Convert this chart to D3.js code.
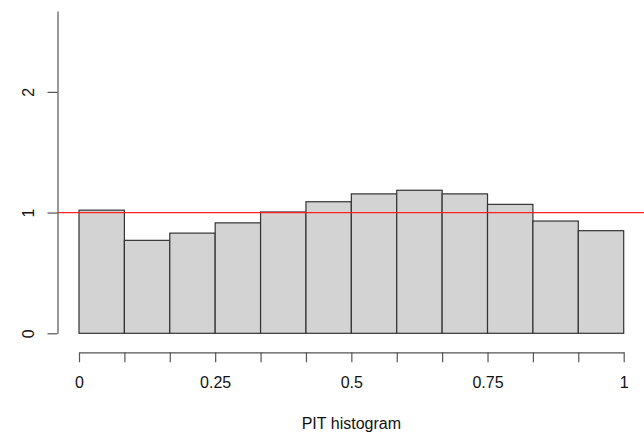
<!DOCTYPE html>
<html>
<head>
<meta charset="utf-8">
<script src="https://cdn.jsdelivr.net/npm/d3@7"></script>
<style>
  body { margin: 0; background: #fff; }
  svg text { font-family: "Liberation Sans", Arial, sans-serif; }
</style>
</head>
<body>
<svg class="chart_pit"></svg>
<script>
// bin edges and relative frequencies
const binEdges = [0, 1/12, 2/12, 3/12, 4/12, 5/12, 6/12, 7/12, 8/12, 9/12, 10/12, 11/12, 1];
const binDensity = [1.02, 0.77, 0.83, 0.915, 1.005, 1.09, 1.155, 1.185, 1.155, 1.068, 0.93, 0.85];
const xTickLabels = ["0", "", "", "0.25", "", "", "0.5", "", "", "0.75", "", "", "1"];
const yTickValues = [0, 1, 2];
const referenceLevel = 1;
const xLabel = "PIT histogram";

const drawHistogram = () => {
  const svgWidth = 644, svgHeight = 432;
  const svg = d3.select(".chart_pit")
    .attr("width", svgWidth)
    .attr("height", svgHeight);

  var xScale = d3.scaleLinear().domain([0, 1]).range([79, 623.7]);
  var yScale = d3.scaleLinear().domain([0, 2.67]).range([333.3, 11]);

  var bins = binDensity.map((d, i) => ({ x0: binEdges[i], x1: binEdges[i + 1], y: d }));

  svg.selectAll("rect.bar")
    .data(bins)
    .enter()
    .append("rect")
    .attr("class", "bar")
    .attr("x", (d) => xScale(d.x0))
    .attr("y", (d) => yScale(d.y))
    .attr("width", (d) => xScale(d.x1) - xScale(d.x0))
    .attr("height", (d) => yScale(0) - yScale(d.y))
    .attr("fill", "#d3d3d3")
    .attr("stroke", "#333")
    .attr("stroke-width", 1.2);

  // reference line at density 1, runs from the y axis to the edge
  svg.append("line")
    .attr("x1", 57.5)
    .attr("x2", svgWidth)
    .attr("y1", yScale(referenceLevel))
    .attr("y2", yScale(referenceLevel))
    .attr("stroke", "#ff2020")
    .attr("stroke-width", 1.2);

  // x axis sits a bit below the bars, R style
  var xAxis = d3.axisBottom(xScale)
    .tickValues(binEdges)
    .tickFormat((d, i) => xTickLabels[i])
    .tickSize(10)
    .tickSizeOuter(0)
    .tickPadding(14);
  var gx = svg.append("g")
    .attr("transform", "translate(0, 352.3)")
    .call(xAxis);
  gx.select(".domain").attr("stroke", "#555").attr("stroke-width", 1.2);
  gx.selectAll(".tick line").attr("stroke", "#555").attr("stroke-width", 1.2);
  gx.selectAll(".tick text").attr("font-size", 16).attr("fill", "#111")
    .attr("font-family", "Liberation Sans, Arial, sans-serif");

  var yAxis = d3.axisLeft(yScale)
    .tickValues(yTickValues)
    .tickSize(10)
    .tickSizeOuter(0)
    .tickFormat(d3.format("d"));
  var gy = svg.append("g")
    .attr("transform", "translate(57.5, 0)")
    .call(yAxis);
  gy.select(".domain").attr("stroke", "#555").attr("stroke-width", 1.2);
  gy.selectAll(".tick line").attr("stroke", "#555").attr("stroke-width", 1.2);
  gy.selectAll(".tick text")
    .attr("x", null).attr("dy", null)
    .attr("transform", "translate(-23.5, 0) rotate(-90)")
    .attr("text-anchor", "middle")
    .attr("font-size", 16).attr("fill", "#111")
    .attr("font-family", "Liberation Sans, Arial, sans-serif");

  svg.append("text")
    .attr("x", xScale(0.5))
    .attr("y", 428.5)
    .attr("text-anchor", "middle")
    .attr("font-size", 16)
    .attr("fill", "#111")
    .text(xLabel);
};

document.addEventListener('DOMContentLoaded', drawHistogram, false);
</script>
</body>
</html>
